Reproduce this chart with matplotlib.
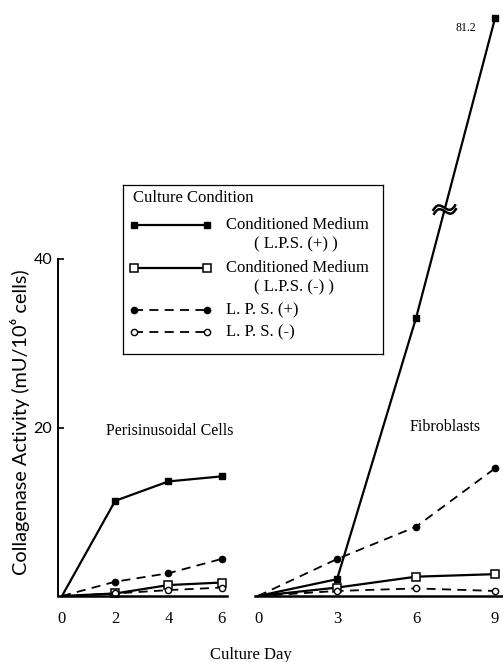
import numpy as np
import matplotlib
matplotlib.use("Agg")
import matplotlib.pyplot as plt
from matplotlib.lines import Line2D
from matplotlib import transforms

plt.rcParams["font.family"] = ["Liberation Serif", "DejaVu Serif"]
SANS = ["Lato", "DejaVu Sans"]

# Collagenase activity (mU/10^6 cells) by culture day
peri_days = [0, 2, 4, 6]
peri_cm_lps_pos = [0.0, 11.3, 13.6, 14.2]
peri_cm_lps_neg = [0.0, 0.3, 1.3, 1.6]
peri_lps_pos = [0.0, 1.7, 2.7, 4.4]
peri_lps_neg = [0.0, 0.3, 0.7, 1.0]

fib_days = [0, 3, 6, 9]
fib_cm_lps_pos = [0.0, 2.0, 33.1, 81.2]
fib_cm_lps_neg = [0.0, 1.0, 2.3, 2.6]
fib_lps_pos = [0.0, 4.4, 8.25, 15.2]
fib_lps_neg = [0.0, 0.6, 0.9, 0.6]

series_labels = ["Conditioned Medium\n( L.P.S. (+) )",
                 "Conditioned Medium\n( L.P.S. (-) )",
                 "L. P. S. (+)",
                 "L. P. S. (-)"]

W, H = 503, 662
fig = plt.figure(figsize=(W / 100, H / 100), dpi=100)


def fig_rect(x0, y_top, x1, y_bot):
    return [x0 / W, 1 - y_bot / H, (x1 - x0) / W, (y_bot - y_top) / H]


def fxy(x, y):
    return x / W, 1 - y / H


styles = [
    dict(color="black", lw=1.6, ls="-", marker="s", ms=5, mfc="black", mec="black"),
    dict(color="black", lw=1.6, ls="-", marker="s", ms=6, mfc="white", mec="black", mew=1.1),
    dict(color="black", lw=1.3, ls=(0, (5, 3.5)), marker="o", ms=4.5, mfc="black", mec="black"),
    dict(color="black", lw=1.3, ls=(0, (5, 3.5)), marker="o", ms=4.5, mfc="white", mec="black", mew=1.0),
]

# ---- Perisinusoidal cells panel ----
ax1 = fig.add_axes(fig_rect(58, 259, 227, 596))
ax1.set_xlim(-0.15, 6.2)
ax1.set_ylim(0, 40)
for ys, st in zip([peri_cm_lps_neg, peri_lps_neg, peri_lps_pos, peri_cm_lps_pos],
                  [styles[1], styles[3], styles[2], styles[0]]):
    ax1.plot(peri_days, ys, clip_on=False, markevery=[1, 2, 3], **st)
ax1.spines[["top", "right"]].set_visible(False)
ax1.spines["left"].set_linewidth(1.4)
ax1.spines["bottom"].set_linewidth(1.8)
ax1.set_xticks(peri_days)
ax1.set_yticks([20, 40])
ax1.tick_params(axis="x", length=0, pad=11, labelsize=12)
ax1.tick_params(axis="y", direction="in", length=4, width=1.2, pad=4, labelsize=11.5)
for lab in ax1.get_yticklabels():
    lab.set_family(SANS)
ax1.text(4.05, 19.6, "Perisinusoidal Cells", ha="center", va="center", fontsize=11.5)

# ---- Fibroblasts panel (broken scale above 46) ----
BRK = 46.0
K = (68.8 - BRK) / (81.2 - BRK)


def fwd(y):
    y = np.asarray(y, dtype=float)
    return np.where(y <= BRK, y, BRK + (y - BRK) * K)


def inv(y):
    y = np.asarray(y, dtype=float)
    return np.where(y <= BRK, y, BRK + (y - BRK) / K)


ax2 = fig.add_axes(fig_rect(255, 8.2, 503, 596))
ax2.set_yscale("function", functions=(fwd, inv))
ax2.set_xlim(-0.114, 9.3)
ax2.set_ylim(0, 83)
for ys, st in zip([fib_cm_lps_neg, fib_lps_neg, fib_lps_pos, fib_cm_lps_pos],
                  [styles[1], styles[3], styles[2], styles[0]]):
    ax2.plot(fib_days, ys, clip_on=False, markevery=[1, 2, 3], **st)
for s in ["top", "right", "left"]:
    ax2.spines[s].set_visible(False)
ax2.spines["bottom"].set_linewidth(1.8)
ax2.set_xticks(fib_days)
ax2.set_yticks([])
ax2.tick_params(axis="x", length=0, pad=11, labelsize=12)
ax2.text(7.1, 20.1, "Fibroblasts", ha="center", va="center", fontsize=11.5)
ax2.annotate(f"{fib_cm_lps_pos[-1]:.1f}", xy=(fib_days[-1], fib_cm_lps_pos[-1]),
             xytext=(-14, -7), textcoords="offset points", ha="right", va="center",
             fontsize=8.5)

# break symbol where the steep segment crosses the scale break
y6 = float(fwd(fib_cm_lps_pos[2]))
y9 = float(fwd(fib_cm_lps_pos[3]))
t = (BRK - y6) / (y9 - y6)
bx = fib_days[2] + t * (fib_days[3] - fib_days[2])
off = transforms.ScaledTranslation(bx, BRK, ax2.transData)
tr = transforms.Affine2D().rotate_deg(12).scale(1 / 72) + fig.dpi_scale_trans + off
xs = np.linspace(-8, 8, 60)
wave = -2.4 * np.sin(xs / 8 * np.pi)
ax2.fill_between(xs, wave - 1.4, wave + 1.4, color="white", transform=tr,
                 zorder=5, clip_on=False, lw=0)
ax2.plot(xs, wave + 1.4, color="black", lw=1.8, transform=tr, zorder=6, clip_on=False)
ax2.plot(xs, wave - 1.4, color="black", lw=1.8, transform=tr, zorder=6, clip_on=False)

# ---- axis titles ----
fig.text(*fxy(20, 422), "Collagenase Activity (mU/10\u2076 cells)", rotation=90,
         ha="center", va="center", fontsize=14.3, family=SANS)
fig.text(*fxy(251, 655), "Culture Day", ha="center", va="center", fontsize=12)

# ---- legend box ----
leg_ax = fig.add_axes(fig_rect(123, 185, 383, 354))
leg_ax.set_xticks([])
leg_ax.set_yticks([])
for s in leg_ax.spines.values():
    s.set_linewidth(0.9)
leg_ax.patch.set_alpha(0)
fig.text(*fxy(133, 198), "Culture Condition", ha="left", va="center", fontsize=12)
rows = [225, 268, 310, 332]
for st, label, yp in zip(styles, series_labels, rows):
    x0, yy = fxy(134, yp)
    x1, _ = fxy(207, yp)
    fig.add_artist(Line2D([x0, x1], [yy, yy], transform=fig.transFigure, **st))
    lines = label.split("\n")
    fig.text(*fxy(226, yp), lines[0], ha="left", va="center", fontsize=12)
    if len(lines) > 1:
        fig.text(*fxy(254, yp + 19), lines[1], ha="left", va="center", fontsize=12)

fig.savefig("out.png", dpi=100)
